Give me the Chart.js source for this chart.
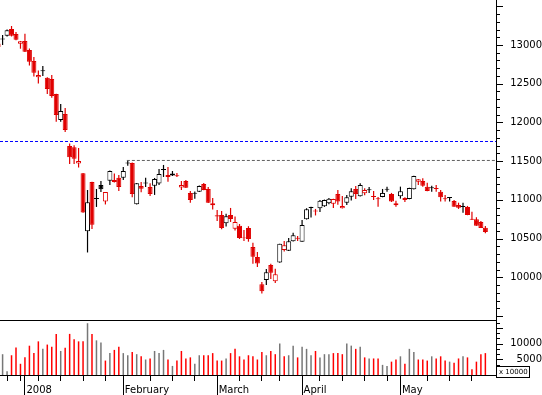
<!DOCTYPE html>
<html>
<head>
<meta charset="utf-8">
<title>Index, December 2007 - May 2008</title>
<script src="https://cdn.jsdelivr.net/npm/chart.js@4.4.1/dist/chart.umd.min.js"></script>
<style>
  html, body { margin: 0; padding: 0; background: #fff; }
  #wrap { position: relative; width: 542px; height: 395px; overflow: hidden; }
  #price { position: absolute; left: 0; top: 0; }
  #volume { position: absolute; left: 0; top: 321px; }
</style>
</head>
<body>
<div id="wrap">
  <canvas id="price" width="542" height="321"></canvas>
  <canvas id="volume" width="542" height="74"></canvas>
</div>
<script>
// daily candles, 20 Dec 2007 .. 29 May 2008 (index = trading day)
var opens = [13019, 13072, 13120, 13207, 13142, 13017, 13052, 12935, 12793, 12583,
  12662, 12578, 12561, 12367, 12032, 12109, 11696, 11680, 11470, 11344,
  10595, 11231, 11010, 11193, 10980, 11248, 11257, 11287, 11287, 11470,
  11477, 10943, 11180, 11212, 11167, 11184, 11210, 11385, 11322, 11341,
  11318, 11160, 11244, 11089, 11078, 11106, 11206, 11141, 10931, 10800,
  10805, 10698, 10805, 10628, 10667, 10515, 10638, 10393, 10263, 9911,
  9966, 10160, 9950, 10193, 10353, 10344, 10466, 10510, 10461, 10750,
  10895, 10862, 10892, 10918, 10956, 10951, 11077, 10892, 10964, 11042,
  11141, 11047, 11086, 11125, 11050, 11020, 11038, 11132, 11077, 10957,
  11047, 11025, 11012, 11137, 11235, 11244, 11171, 11150, 11155, 11106,
  11022, 11025, 10986, 10934, 10908, 10909, 10755, 10750, 10715, 10641];
var highs = [13035, 13129, 13200, 13245, 13168, 13052, 13146, 12955, 12845, 12671,
  12729, 12582, 12613, 12370, 12238, 12187, 11728, 11705, 11670, 11348,
  11128, 11235, 11141, 11244, 11102, 11380, 11341, 11322, 11425, 11502,
  11483, 11218, 11231, 11287, 11215, 11283, 11399, 11451, 11425, 11373,
  11348, 11244, 11257, 11115, 11109, 11186, 11219, 11167, 11025, 10870,
  10857, 10822, 10896, 10784, 10689, 10612, 10660, 10448, 10328, 9940,
  10108, 10176, 10112, 10434, 10469, 10508, 10577, 10534, 10741, 10892,
  10910, 10883, 10999, 11004, 11025, 11015, 11128, 11051, 11064, 11150,
  11180, 11215, 11150, 11167, 11115, 11038, 11141, 11171, 11090, 10990,
  11171, 11034, 11158, 11313, 11270, 11279, 11222, 11184, 11193, 11128,
  11064, 11038, 10999, 10964, 10964, 10922, 10848, 10776, 10728, 10663];
var lows = [12960, 13000, 13110, 13110, 13062, 12952, 12910, 12735, 12593, 12503,
  12600, 12367, 12320, 12010, 12010, 11877, 11464, 11464, 11418, 10835,
  10321, 10625, 10909, 11102, 10941, 11193, 11225, 11115, 11257, 11442,
  11034, 10941, 11098, 11167, 11051, 11064, 11193, 11296, 11235, 11309,
  11296, 11128, 11154, 10964, 11016, 11102, 11124, 10960, 10877, 10728,
  10621, 10655, 10715, 10605, 10495, 10470, 10460, 10176, 10134, 9792,
  9902, 9979, 9927, 10189, 10332, 10340, 10462, 10470, 10458, 10746,
  10773, 10799, 10844, 10910, 10943, 10895, 10938, 10888, 10935, 10993,
  11012, 11044, 11060, 11090, 10999, 10912, 11034, 11106, 10973, 10912,
  11016, 10973, 11008, 11133, 11193, 11171, 11112, 11106, 11106, 10978,
  10978, 10978, 10910, 10883, 10835, 10802, 10741, 10665, 10636, 10569];
var closes = [12974, 13085, 13190, 13120, 13068, 13048, 12913, 12784, 12642, 12613,
  12675, 12432, 12342, 12096, 12148, 11903, 11550, 11530, 11502, 10838,
  10969, 10680, 11024, 11137, 11102, 11373, 11231, 11167, 11373, 11483,
  11077, 11215, 11145, 11225, 11077, 11270, 11335, 11398, 11296, 11315,
  11305, 11193, 11158, 10999, 11091, 11180, 11128, 10964, 10957, 10787,
  10638, 10789, 10754, 10715, 10508, 10505, 10495, 10267, 10177, 9820,
  10066, 10060, 10040, 10434, 10414, 10466, 10543, 10497, 10676, 10879,
  10908, 10849, 10990, 11000, 11016, 11012, 10978, 10922, 11034, 11111,
  11077, 11193, 11128, 11138, 11037, 11007, 11090, 11145, 10978, 10931,
  11111, 10999, 11154, 11309, 11266, 11184, 11115, 11163, 11142, 11034,
  11009, 11038, 10912, 10900, 10921, 10805, 10742, 10667, 10638, 10586];
// volume in units of 10000
var volumes = [5000, 6600, 1200, 6270, 8750, 3560, 5600, 9300, 6950, 10680,
  8300, 9660, 8980, 13050, 7630, 8640, 13050, 11350, 10680, 10680,
  16440, 13050, 11000, 10340, 4580, 6950, 7970, 8980, 6950, 6270,
  7290, 6610, 5930, 4920, 5250, 7630, 6950, 7970, 4920, 2880,
  4580, 7630, 5250, 5600, 3560, 6270, 6270, 6270, 6950, 4580,
  4580, 5250, 6950, 8300, 5930, 4920, 6270, 5930, 4920, 7290,
  6270, 7630, 6610, 10000, 5930, 6270, 9320, 5590, 8980, 8300,
  6270, 7630, 5590, 6610, 6610, 6950, 6950, 6610, 10000, 9320,
  8300, 8980, 5590, 5250, 5250, 5250, 3220, 2880, 4240, 4920,
  5930, 3560, 8300, 7290, 4920, 4920, 4580, 5930, 5250, 5930,
  4580, 4240, 3900, 5250, 5930, 5590, 1860, 4240, 6610, 6950];

var priceTicks = [10000, 10500, 11000, 11500, 12000, 12500, 13000];
var volumeTicks = [5000, 10000];
var monthTicks = [6, 28, 49, 68, 90];
var monthLabels = ["2008", "February", "March", "April", "May"];
var weekTicks = [2, 5, 9, 14, 19, 24, 34, 39, 44, 54, 59, 63, 72, 77, 82, 87, 96, 101, 106];

var supportLevel = 11754;
var resistanceLevel = 11509;
var resistanceFrom = 28.8;

var xMin = 0.42, xMax = 111.38;
var priceMin = 9449, priceMax = 13581, priceMinorStep = 100;
var volumeMax = 17143, volumeMinorStep = 5000 / 3;

var RED = "#e00000", BLACK = "#000000", VOL_RED = "#ff0000", VOL_GRAY = "#777777";
var FONT = { family: "DejaVu Sans", size: 10 };

Chart.defaults.font.family = "DejaVu Sans";
Chart.defaults.animation = false;

var up = closes.map(function (c, i) {
  var prev = i > 0 ? closes[i - 1] : opens[i];
  return c >= prev;
});
var candleColor = up.map(function (u) { return u ? BLACK : RED; });
var bodyFill = opens.map(function (o, i) {
  var hollow = closes[i] - o > 20;
  return hollow ? "#ffffff" : candleColor[i];
});

var fitWidth = function (s) {
  s.width = 46;
  s.paddingTop = 0;
  s.paddingBottom = 0;
};
var noPadding = function (s) {
  s.paddingLeft = 0;
  s.paddingRight = 0;
};

// minor / major tick marks on the right price axis
var priceAxisTicks = {
  id: "priceAxisTicks",
  afterDraw: function (chart) {
    var ys = chart.scales.y, ctx = chart.ctx, right = chart.chartArea.right;
    ctx.save();
    ctx.strokeStyle = "#000";
    ctx.lineWidth = 1;
    ctx.beginPath();
    for (var v = Math.ceil(ys.min / priceMinorStep) * priceMinorStep; v <= ys.max; v += priceMinorStep) {
      var py = Math.round(ys.getPixelForValue(v)) + 0.5;
      ctx.moveTo(right, py);
      ctx.lineTo(right + (v % 500 === 0 ? 7 : 4), py);
    }
    ctx.stroke();
    ctx.restore();
  }
};

// volume axis ticks, date ticks and the "x 10000" box
var volumeDecor = {
  id: "volumeDecor",
  afterDraw: function (chart) {
    var ctx = chart.ctx, area = chart.chartArea;
    var xs = chart.scales.x, ys = chart.scales.y;
    ctx.save();
    ctx.strokeStyle = "#000";
    ctx.lineWidth = 1;
    ctx.beginPath();
    for (var k = 0; k * volumeMinorStep <= ys.max; k++) {
      var py = Math.round(ys.getPixelForValue(k * volumeMinorStep)) + 0.5;
      ctx.moveTo(area.right, py);
      ctx.lineTo(area.right + (k % 3 === 0 ? 7 : 4), py);
    }
    monthTicks.forEach(function (i) {
      var px = Math.floor(xs.getPixelForValue(i)) + 0.5;
      ctx.moveTo(px, area.bottom);
      ctx.lineTo(px, chart.height);
    });
    weekTicks.forEach(function (i) {
      var px = Math.floor(xs.getPixelForValue(i)) + 0.5;
      ctx.moveTo(px, area.bottom);
      ctx.lineTo(px, area.bottom + 6);
    });
    ctx.stroke();

    var bx = area.right + 0.5, by = area.bottom - 8.5;
    ctx.fillStyle = "#fff";
    ctx.fillRect(bx, by, 33, 11);
    ctx.strokeRect(bx, by, 33, 11);
    ctx.fillStyle = "#000";
    ctx.font = "7px 'DejaVu Sans'";
    ctx.textBaseline = "middle";
    ctx.fillText("x 10000", bx + 2.5, by + 5.5);
    ctx.restore();
  }
};

new Chart(document.getElementById("price"), {
  type: "bar",
  data: {
    datasets: [{
      data: opens.map(function (o, i) { return { x: i, y: [o, closes[i]] }; }),
      backgroundColor: bodyFill,
      borderColor: candleColor,
      borderWidth: 1,
      borderSkipped: false,
      inflateAmount: 0,
      barThickness: 5,
      grouped: false
    }, {
      data: lows.map(function (l, i) { return { x: i, y: [l, highs[i]] }; }),
      backgroundColor: candleColor,
      borderWidth: 0,
      inflateAmount: 0,
      barThickness: 1.2,
      grouped: false
    }, {
      type: "line",
      data: [{ x: xMin, y: supportLevel }, { x: xMax, y: supportLevel }],
      borderColor: "#0000ff",
      borderWidth: 1,
      borderDash: [3, 2],
      pointRadius: 0
    }, {
      type: "line",
      data: [{ x: resistanceFrom, y: resistanceLevel }, { x: xMax, y: resistanceLevel }],
      borderColor: "#606060",
      borderWidth: 1,
      borderDash: [3, 2],
      pointRadius: 0
    }]
  },
  options: {
    responsive: false,
    devicePixelRatio: 1,
    layout: { padding: 0, autoPadding: false },
    plugins: { legend: { display: false }, tooltip: { enabled: false } },
    scales: {
      x: {
        type: "linear",
        min: xMin,
        max: xMax,
        offset: false,
        ticks: { display: false },
        grid: { display: false, drawTicks: false },
        border: { display: true, color: "#000", width: 1 },
        afterFit: function (s) { s.height = 1; noPadding(s); }
      },
      y: {
        type: "linear",
        position: "right",
        min: priceMin,
        max: priceMax,
        beginAtZero: false,
        afterBuildTicks: function (s) {
          s.ticks = priceTicks.map(function (v) { return { value: v }; });
        },
        afterFit: fitWidth,
        grid: { display: false, drawTicks: false },
        border: { display: true, color: "#000", width: 1 },
        ticks: {
          padding: 10,
          crossAlign: "far",
          color: "#000",
          font: FONT,
          callback: function (v) { return String(v); }
        }
      }
    }
  },
  plugins: [priceAxisTicks]
});

new Chart(document.getElementById("volume"), {
  type: "bar",
  data: {
    datasets: [{
      data: volumes.map(function (v, i) { return { x: i, y: v }; }),
      backgroundColor: up.map(function (u) { return u ? VOL_GRAY : VOL_RED; }),
      borderWidth: 0,
      inflateAmount: 0,
      barThickness: 1.5
    }]
  },
  options: {
    responsive: false,
    devicePixelRatio: 1,
    layout: { padding: 0, autoPadding: false },
    plugins: { legend: { display: false }, tooltip: { enabled: false } },
    scales: {
      x: {
        type: "linear",
        min: xMin,
        max: xMax,
        offset: false,
        afterBuildTicks: function (s) {
          s.ticks = monthTicks.map(function (v) { return { value: v }; });
        },
        afterFit: function (s) { s.height = 20; noPadding(s); },
        grid: { display: false, drawTicks: false },
        border: { display: true, color: "#000", width: 1 },
        ticks: {
          align: "start",
          labelOffset: 1.5,
          padding: 9,
          autoSkip: false,
          maxRotation: 0,
          color: "#000",
          font: FONT,
          callback: function (v, index) { return monthLabels[index]; }
        }
      },
      y: {
        type: "linear",
        position: "right",
        min: 0,
        max: volumeMax,
        afterBuildTicks: function (s) {
          s.ticks = volumeTicks.map(function (v) { return { value: v }; });
        },
        afterFit: fitWidth,
        grid: { display: false, drawTicks: false },
        border: { display: true, color: "#000", width: 1 },
        ticks: {
          padding: 10,
          crossAlign: "far",
          color: "#000",
          font: FONT,
          callback: function (v) { return String(v); }
        }
      }
    }
  },
  plugins: [volumeDecor]
});
</script>
</body>
</html>
